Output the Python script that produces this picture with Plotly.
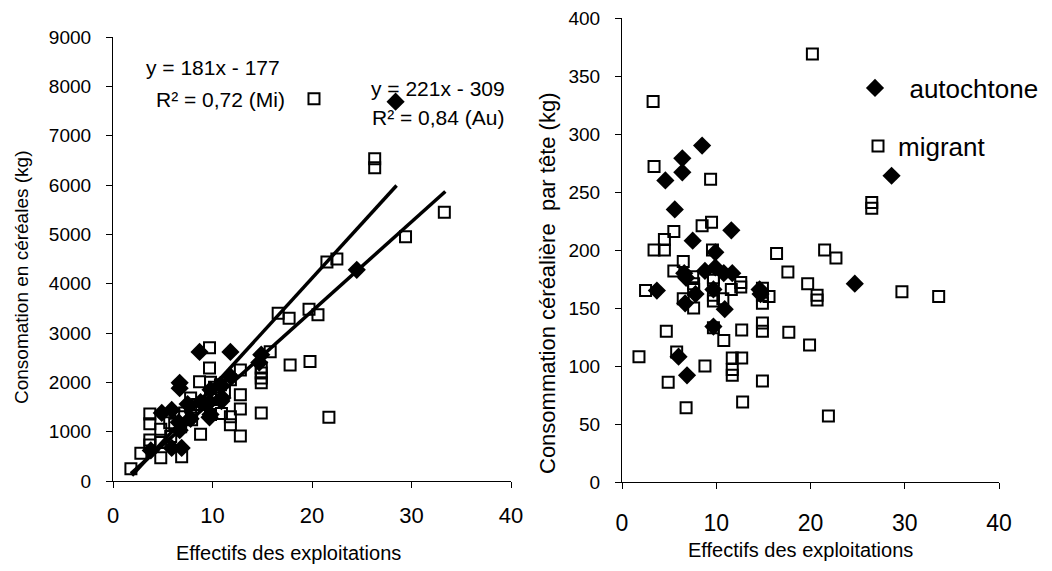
import plotly.graph_objects as go

# ---------------- Left panel: total cereal consumption ----------------
left_mi_x = [1.8, 2.8, 3.7, 3.7, 3.7, 3.7, 4.8, 4.8, 4.8, 5.7, 5.8, 6.9, 6.8, 6.8, 7.9, 7.8, 7.8,
             8.8, 8.7, 9.7, 9.7, 9.8, 9.8, 9.8, 9.8, 10.5, 10.9, 10.8, 11.8, 11.8, 11.8, 12.8, 12.8,
             12.8, 12.8, 14.9, 14.9, 14.9, 14.9, 14.9, 15.8, 16.6, 17.7, 17.8, 19.7, 20.6, 19.8,
             21.7, 21.5, 22.5, 20.2, 26.3, 26.3, 29.4, 33.3, 8.5, 10.2, 11.2, 7.2, 6.2]
left_mi_y = [250, 560, 830, 1160, 1360, 730, 470, 1050, 780, 1180, 900, 490, 1300, 1100, 1240, 1680, 1500,
             950, 2010, 2700, 2290, 2000, 1800, 1650, 1350, 1750, 1370, 1950, 1300, 1140, 2050, 1750, 1460,
             910, 2250, 1380, 1990, 2090, 2190, 2290, 2620, 3400, 3300, 2350, 3480, 3370, 2420,
             1290, 4440, 4500, 7750, 6530, 6350, 4950, 5450, 1550, 1900, 1820, 1380, 1150]

left_au_x = [3.8, 4.9, 5.9, 5.9, 6.9, 6.7, 6.7, 6.7, 7.8, 7.5, 8.7, 8.8, 9.8, 9.7, 9.8, 9.7, 10.8,
             11.0, 10.9, 11.8, 11.8, 14.9, 14.7, 24.5, 28.4, 6.6]
left_au_y = [620, 1380, 1440, 670, 670, 1990, 1880, 1030, 1260, 1560, 2617, 1600, 1350, 1600, 1850, 1290, 1950,
             1680, 1620, 2617, 2120, 2560, 2400, 4280, 7690, 1190]

# Trend lines (equations shown on the chart)
trend_mi = {"slope": 181, "intercept": -177, "x": [1.8, 33.4]}
trend_au = {"slope": 221, "intercept": -309, "x": [1.9, 28.5]}

# ---------------- Right panel: consumption per head ----------------
right_mi_x = [1.8, 2.5, 3.3, 3.4, 3.4, 4.5, 4.5, 5.5, 5.5, 4.7, 4.9, 5.8, 6.8, 6.5, 6.5, 7.6, 7.6, 7.6,
              7.5, 8.5, 8.8, 9.5, 9.4, 9.6, 9.7, 9.7, 9.7, 9.7, 9.7, 10.7, 10.8, 11.6, 12.6, 12.6,
              12.7, 11.7, 12.7, 11.7, 11.7, 12.8, 14.9, 14.9, 14.9, 14.9, 14.9, 14.9, 15.6, 16.4,
              17.6, 17.7, 19.7, 19.9, 20.2, 20.7, 20.7, 21.5, 22.7, 21.9, 26.5, 26.5, 29.7, 33.6]
right_mi_y = [108, 165, 328, 272, 200, 200, 209, 216, 182, 130, 86, 112, 64, 158, 190, 150, 171, 166,
              177, 221, 100, 224, 261, 200, 176, 174, 161, 156, 133, 158, 122, 166, 172, 168,
              131, 107, 107, 97, 92, 69, 167, 161, 154, 137, 130, 87, 160, 197,
              181, 129, 171, 118, 369, 161, 157, 200, 193, 57, 241, 236, 164, 160]

right_au_x = [3.7, 4.6, 5.6, 6.4, 6.4, 8.5, 11.6, 28.6, 7.5, 9.9, 6.6, 6.8, 8.8, 9.9, 10.8, 11.7,
              24.7, 6.0, 6.9, 6.7, 7.8, 9.7, 9.7, 10.9, 14.6, 14.7]
right_au_y = [165, 260, 235, 279, 267, 290, 217, 264, 208, 198, 180, 176, 182, 185, 180, 180,
              171, 108, 92, 154, 162, 134, 166, 149, 166, 162]

x_ticks = [0, 10, 20, 30, 40]
left_y_ticks = [0, 1000, 2000, 3000, 4000, 5000, 6000, 7000, 8000, 9000]
right_y_ticks = [0, 50, 100, 150, 200, 250, 300, 350, 400]

W, H, OFF = 1052, 571, 8  # page body margin offsets the figure by 8 px


def px(v):
    return (v - OFF) / W


def py(v):
    return 1 - (v - OFF) / H


FONT = "Arial, Liberation Sans, sans-serif"
NB = "\u00a0"
sq = dict(symbol="square-open", size=11, color="black", line=dict(width=2, color="black"))
dia = dict(symbol="diamond", size=14, color="black")

fig = go.Figure()

fig.add_trace(go.Scatter(x=left_mi_x, y=left_mi_y, mode="markers", marker=sq,
                         showlegend=False, xaxis="x", yaxis="y"))
fig.add_trace(go.Scatter(x=left_au_x, y=left_au_y, mode="markers", marker=dia,
                         showlegend=False, xaxis="x", yaxis="y"))
for t in (trend_mi, trend_au):
    fig.add_trace(go.Scatter(x=t["x"], y=[t["slope"] * v + t["intercept"] for v in t["x"]],
                             mode="lines", line=dict(color="black", width=3.5),
                             showlegend=False, xaxis="x", yaxis="y"))

fig.add_trace(go.Scatter(x=right_au_x, y=right_au_y, mode="markers", marker=dia,
                         name=NB * 2 + "autochtone", legend="legend", xaxis="x2", yaxis="y2"))
fig.add_trace(go.Scatter(x=right_mi_x, y=right_mi_y, mode="markers", marker=sq,
                         name="migrant", legend="legend2", xaxis="x2", yaxis="y2"))

axis_common = dict(showgrid=False, zeroline=False, showline=True, linecolor="black", linewidth=1.2,
                   ticks="outside", ticklen=6, tickcolor="black", tickwidth=1.2, automargin=False,
                   ticklabeloverflow="allow")

legend_common = dict(xanchor="left", yanchor="middle", bgcolor="rgba(0,0,0,0)",
                     font=dict(family=FONT, size=26, color="black"))

fig.update_layout(
    width=W, height=H,
    margin=dict(l=0, r=0, t=0, b=0),
    paper_bgcolor="white", plot_bgcolor="white",
    font=dict(family=FONT, color="black"),
    xaxis=dict(axis_common, domain=[px(113), px(511)], range=[0, 40], tickvals=x_ticks,
               tickfont=dict(family=FONT, size=22, color="black"), ticklabelstandoff=8, anchor="y"),
    yaxis=dict(axis_common, domain=[py(481), py(37)], range=[0, 9000], tickvals=left_y_ticks,
               tickfont=dict(family=FONT, size=19, color="black"), ticklabelstandoff=11, anchor="x"),
    xaxis2=dict(axis_common, domain=[px(622), px(999)], range=[0, 40], tickvals=x_ticks,
                tickfont=dict(family=FONT, size=23, color="black"), ticklabelstandoff=14, anchor="y2"),
    yaxis2=dict(axis_common, domain=[py(482), py(18)], range=[0, 400], tickvals=right_y_ticks,
                tickfont=dict(family=FONT, size=19, color="black"), ticklabelstandoff=11, anchor="x2"),
    legend=dict(legend_common, x=px(855), y=py(88)),
    legend2=dict(legend_common, x=px(858), y=py(146)),
)

ann = [
    dict(text="y = 181x - 177", x=213, y=68, size=21),
    dict(text="R² = 0,72 (Mi)", x=220, y=99, size=21),
    dict(text="y = 221x - 309", x=438, y=88, size=21),
    dict(text="R² = 0,84 (Au)", x=438, y=117, size=21),
    dict(text="Effectifs des exploitations", x=288, y=553, size=20),
    dict(text="Effectifs des exploitations", x=800, y=550, size=20),
]
for a in ann:
    fig.add_annotation(text=a["text"], x=px(a["x"]), y=py(a["y"]), xref="paper", yref="paper",
                       showarrow=False, xanchor="center", yanchor="middle",
                       font=dict(family=FONT, size=a["size"], color="black"))

fig.add_annotation(text="Consomation en céréales (kg)", x=px(22), y=py(278),
                   xref="paper", yref="paper", showarrow=False, textangle=-90,
                   xanchor="center", yanchor="middle", font=dict(family=FONT, size=19, color="black"))
fig.add_annotation(text="Consommation céréalière  par tête (kg)", x=px(548), y=py(283),
                   xref="paper", yref="paper", showarrow=False, textangle=-90,
                   xanchor="center", yanchor="middle", font=dict(family=FONT, size=22, color="black"))

fig.write_html("out.html")
